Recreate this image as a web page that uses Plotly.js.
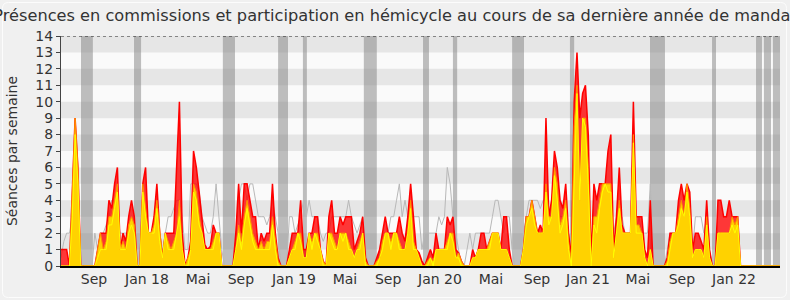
<!DOCTYPE html>
<html><head><meta charset="utf-8">
<script src="https://cdn.plot.ly/plotly-3.0.1.min.js"></script>
<style>html,body{margin:0;padding:0;background:#f0f0f0;}#chart{width:790px;height:300px;}</style>
</head><body><div id="chart"></div>
<script>
// Weekly values (week index 0..255)
const presenceTotal = [
1,1,1,0,4.5,9,6,0,0,0, 0,0,0,1,2,2,2,4,3.5,5, 6,1,2,1.5,3,4,3,0,0,5, 6,2,2,3,5,2,0.5,2,2,2,
2,6,10,2,0,0.5,1.5,7,6,4.5, 2.8,1.3,1,1.2,2.5,2,2,0,0,0, 0,0,2,5,2,5,5,4,3,3, 1,2,1.5,2,2,5,2,0.5,0,0,
0,1,2,2,2,4,1,1,2,2, 3,3,1,0.3,0,3,4,2,2,3, 2.5,3,3,3,1,1.5,2,3,0.5,0, 0,0,0.5,1,2,3,2,2,2,2,
3,2,1.5,3,5,3,1,0.8,0.3,0, 0.5,1,0.5,2,1,1,1,3,2.5,3, 1,0.8,0.3,0,0,0,1,0.5,1,2, 2,1,1.5,2,2,2,1,3,3,1,
0,0,0,0,1,3,3,4,3,2, 2.5,2,9,3,4,7,6,4,3.5,5, 2,0.5,10,13,9,10.5,11,8,0.3,5, 4,5,5,5,7,8,1,3,6,2.5,
2,2,2,10,3,3,3,1,0.5,4, 0,0,0,0,0,0.5,2,2,2,4, 5,4,5,4.5,1,2,2,1.5,1,4, 1,0,0,4,4,3,3,4,3,3,
3,0,0,0,0,0,0,0,0,0, 0,0,0,0,0,0
];
const presenceHemicycle = [
0,0,0,0,4.5,9,6,0,0,0, 0,0,0,1,2,1,1.5,3,3,4, 5,1,1.5,1,2.5,3,2.5,0,0,5, 3.5,2,2,2.5,4,2,0.5,2,1.5,1,
1.5,2,4,1,0,0.5,1,5,4.5,3, 2,1,1,1,1.5,2,2,0,0,0, 0,0,1,2.5,1.5,3,4,3,2,1.5, 1,1.5,1,1.5,1.5,3,1.5,0.3,0,0,
0,0.5,1,1.5,2,2,0.5,0.5,2,1.5, 2,2,1,0.3,0,2,2,1.5,1,2, 2,2,1.5,1,0.5,1,1.5,2,0.3,0, 0,0,0.3,0.5,1.5,2,2,1.5,2,2,
1.5,1,1,2,4,1.5,1,0.5,0,0, 0.3,0.5,0.3,1,1,1,1,1.5,2,2, 0.5,0.8,0.3,0,0,0,0.5,0.5,1,1, 1,1,1.5,2,2,2,1,1,1,0.5,
0,0,0,0,1,3,3,4,3,2, 2,2,5,3,3,6,5,2.5,3,4, 1.5,0.3,8.5,11,4,9,9,6,0,3, 3,4,5,5,5,5,0.5,2,4,2,
2,2,2,8,2.5,2.5,2,0.5,0,1, 0,0,0,0,0,0.3,1.5,2,2,3, 4,3,5,3.5,0.5,1,1,1,0.5,3, 0.5,0,0,2,2,2,2,2,3,2.5,
3,0,0,0,0,0,0,0,0,0, 0,0,0,0,0,0
];
const interventions = [
0,0,0,0,3,8,5,0,0,0, 0,0,0,0.5,1,1,1,2.5,2.5,3.5, 4.5,1,1,1,2,2.5,2,0,0,4.5, 3,2,2,2,3.5,1.5,0.5,2,1,1,
1,2,3,1,0,0,1,4.5,4,2.5, 2,1,1,1,1,2,2,0,0,0, 0,0,1,2,1,2.5,3.5,2.5,1.5,1, 1,1,1,1,1,2.5,1,0,0,0,
0,0.5,1,1,2,1.5,0.5,0.5,2,1, 2,1.5,1,0,0,2,1.5,1,1,2, 1.5,2,1,1,0.5,1,1,2,0,0, 0,0,0,0.5,1,2,2,1,2,2,
1,1,1,2,3.5,1,1,0.5,0,0, 0,0.5,0,1,1,1,1,1,2,1.5, 0.5,0.5,0,0,0,0,0.5,0.5,1,1, 1,1,1,2,2,2,1,1,1,0.5,
0,0,0,0,1,2.5,3,3.5,2.5,2, 2,2,4.5,2.5,3,5.5,4,2,2.5,3.5, 1,0,5,10.5,4,9,8.5,5,0,2.5, 2,3.5,4.5,5,4.5,4.5,0.5,2,3.5,2,
2,2,2,7.5,2,2,2,0.5,0,1, 0,0,0,0,0,0,1,2,2,2.5, 3.5,3,4.5,3,0.5,1,1,1,0.5,2.5, 0.5,0,0,2,2,2,2,2,2.5,2,
2.5,0,0,0,0,0,0,0,0,0, 0,0,0,0,0,0
];
const medianDeputes = [
0.5,1.5,2,2,3,3,2,0,0,0, 0,0,2,1,2,2,2.5,3,4,3, 3,2,2,2,2,2,2,0,0,2, 2,2,2,2,3,2,1,2,3,3,
3.5,4,4,3,1,1,5,5,5,4.5, 3,2.5,2,2,3,5,3,1,0,0, 0,0,2,4,5,5,4,5,5,4, 3,3,3,2.5,3,4,3,2,0,0,
0,3,3,2,2.5,3,4,3,4,3, 3,3,2,1.5,2,2,3,3,3,3, 3,3,4,3,2.5,2,2.5,3,1,0, 0,0,0,1,2,2,2,3,3,4,
5,3,4,3,3,3,3,3,1,2, 2,2,2,2,3,2.5,3,6,5,3, 2,1,0,0,1,2,1,2,2,2, 2,2,2,3,4,4,3,2,3,3,
1,0,0,0,2,3,4,4,4,4, 3.5,4,4,3,3,4,4,3,3,3, 2,1,4,5,5,5,5,4,1,3, 3,3,3,3,3,3,2,3,3,3,
2,2,2,2,2,3,2,2,2,5, 0,0,0,0,0,1,2,2,2,3, 3,3,3,3,1,3,3,3,2,3, 1,0,0,2,2,2,2,2,2,2,
2,0,0,0,0,0,0,0,0,0, 0,0,0,0,0,0
];
// Parliamentary holidays (week index start / end)
const vacStart = [7.1, 25.9, 57.4, 77.0, 85.8, 107.4, 128.4, 139.0, 160.0, 180.5, 208.9, 230.9, 246.5, 249.3, 252.5];
const vacEnd   = [11.3, 28.4, 61.7, 80.5, 87.2, 112.0, 130.5, 140.5, 164.2, 182.0, 214.2, 232.3, 248.6, 251.8, 255.0];
// Tick labels and their week positions
const tickWeeks = [11.7, 30.5, 48.6, 63.8, 82.6, 100.7, 116.0, 134.4, 152.5, 168.8, 186.9, 204.6, 220.2, 238.7];
const tickText = ["Sep","Jan 18","Mai","Sep","Jan 19","Mai","Sep","Jan 20","Mai","Sep","Jan 21","Mai","Sep","Jan 22"];

const weeks = presenceTotal.map((_, i) => i);

const W = 790, H = 300, ML = 61, MR = 10, MT = 36, MB = 34;
const pw = W - ML - MR, ph = H - MT - MB;
const px2x = p => (p - ML) / pw;
const py2y = p => (H - MB - p) / ph;

const shapes = [];
for (let k = 1; k < 14; k += 2) {
  shapes.push({type:'rect', xref:'paper', yref:'y', x0:0, x1:1, y0:k, y1:k+1,
    fillcolor:'#e6e6e6', line:{width:0}, layer:'below'});
}
for (let j = 0; j < vacStart.length; j++) {
  shapes.push({type:'rect', xref:'x', yref:'y', x0:vacStart[j], x1:vacEnd[j], y0:0, y1:14,
    fillcolor:'rgba(128,128,128,0.5)', line:{width:0}, layer:'below'});
}
shapes.push({type:'line', xref:'paper', yref:'y', x0:0, x1:1, y0:14, y1:14,
  line:{color:'#222', width:1, dash:'dot'}});
// outer rounded frame
(function(){
  const l = 2.5, r = 786.5, t = 2.5, b = 297.5, rad = 6;
  const X = p => px2x(p).toFixed(5), Y = p => py2y(p).toFixed(5);
  const path = 'M' + X(l+rad) + ',' + Y(t) + ' L' + X(r-rad) + ',' + Y(t) +
    ' Q' + X(r) + ',' + Y(t) + ' ' + X(r) + ',' + Y(t+rad) +
    ' L' + X(r) + ',' + Y(b-rad) + ' Q' + X(r) + ',' + Y(b) + ' ' + X(r-rad) + ',' + Y(b) +
    ' L' + X(l+rad) + ',' + Y(b) + ' Q' + X(l) + ',' + Y(b) + ' ' + X(l) + ',' + Y(b-rad) +
    ' L' + X(l) + ',' + Y(t+rad) + ' Q' + X(l) + ',' + Y(t) + ' ' + X(l+rad) + ',' + Y(t) + ' Z';
  shapes.push({type:'path', xref:'paper', yref:'paper', path:path, line:{color:'#fcfcfc', width:1}, layer:'below'});
})();

const traces = [
  {x:weeks, y:medianDeputes, type:'scatter', mode:'lines', line:{color:'#b8b8b8', width:1}, hoverinfo:'skip'},
  {x:weeks, y:presenceTotal, type:'scatter', mode:'lines', fill:'tozeroy',
    fillcolor:'rgba(255,0,0,0.78)', line:{color:'#ff0000', width:1.5}, hoverinfo:'skip'},
  {x:weeks, y:presenceHemicycle, type:'scatter', mode:'lines', fill:'tozeroy',
    fillcolor:'#ffd200', line:{color:'#ff9000', width:1}, hoverinfo:'skip'},
  {x:weeks, y:interventions, type:'scatter', mode:'lines', line:{color:'#ffff00', width:1}, hoverinfo:'skip'}
];

const layout = {
  width:W, height:H,
  margin:{l:ML, r:MR, t:MT, b:MB},
  paper_bgcolor:'#f0f0f0', plot_bgcolor:'#fafafa',
  showlegend:false,
  font:{family:'DejaVu Sans, sans-serif', color:'#333'},
  title:{text:'Présences en commissions et participation en hémicycle au cours de sa dernière année de mandat',
    x:0.5, xref:'container', xanchor:'center', y:0.95, yref:'container', yanchor:'middle',
    font:{size:16.2, color:'#333', family:'DejaVu Sans, sans-serif'}},
  xaxis:{range:[0,255], showgrid:false, zeroline:false, showline:true, linecolor:'#000', linewidth:1.5,
    tickvals:tickWeeks, ticktext:tickText, ticks:'', tickfont:{size:14, color:'#333'}, fixedrange:true},
  yaxis:{range:[0,14], dtick:1, showgrid:false, zeroline:false, showline:true, linecolor:'#444', linewidth:1,
    ticks:'outside', ticklen:4, tickcolor:'#444', tickfont:{size:14, color:'#333'},
    title:{text:'Séances par semaine', font:{size:14, color:'#333'}, standoff:14}, fixedrange:true},
  shapes:shapes
};
Plotly.newPlot('chart', traces, layout, {staticPlot:true});
</script></body></html>
